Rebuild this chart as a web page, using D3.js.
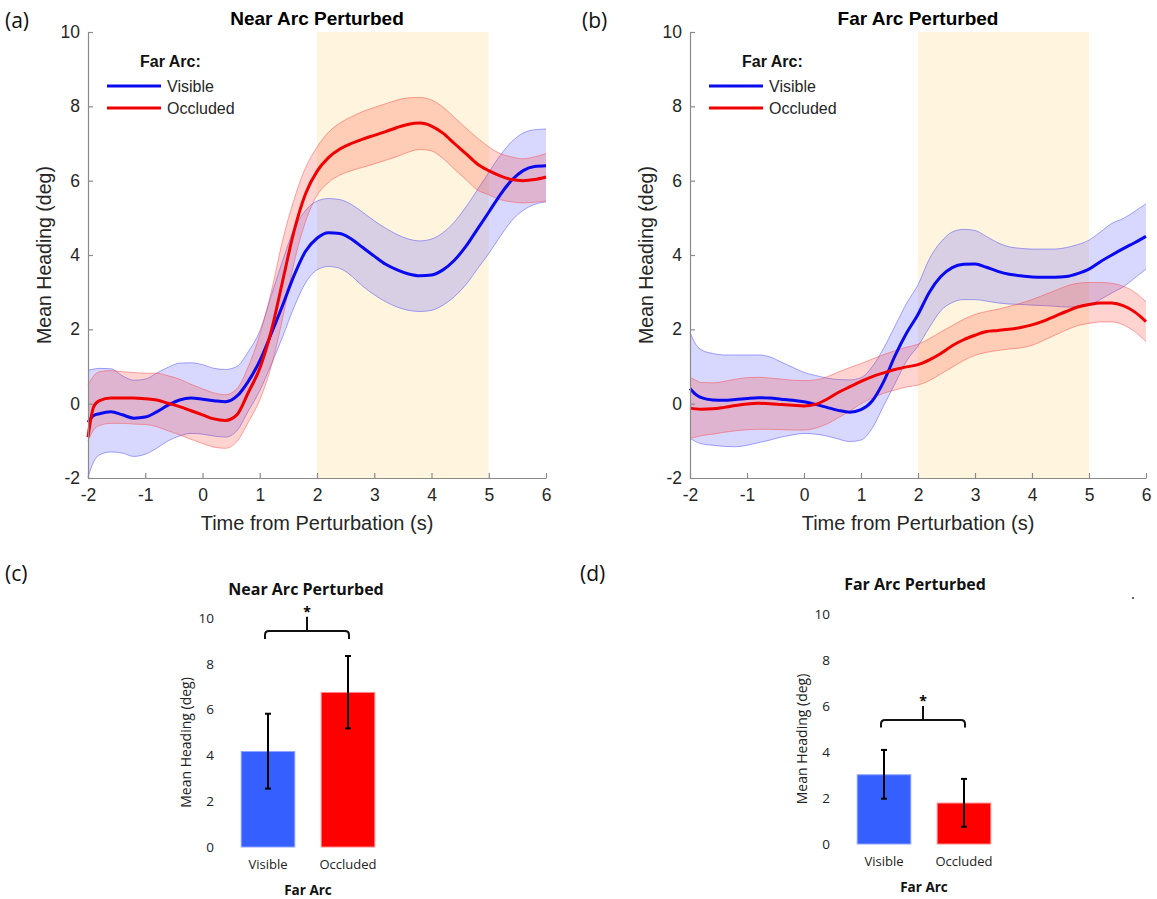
<!DOCTYPE html>
<html>
<head>
<meta charset="utf-8">
<script src="https://cdn.jsdelivr.net/npm/d3@7"></script>
<style>
  body { margin: 0; background: #fff; }
  svg { display: block; }
</style>
</head>
<body>
<svg id="fig" width="1157" height="899"></svg>
<script>
// ---- time-course data (seconds from perturbation, mean heading in deg) ----
const timePoints = [-2,-1.9,-1.8,-1.6,-1.4,-1.2,-1,-0.8,-0.6,-0.4,-0.2,0,0.2,0.4,0.6,0.8,1,1.2,1.4,1.6,1.8,2,2.2,2.4,2.6,2.8,3,3.2,3.4,3.6,3.8,4,4.2,4.4,4.6,4.8,5,5.2,5.4,5.6,5.8,6];

// Near arc perturbed
const nearVisibleMean  = [-0.5,-0.32,-0.27,-0.22,-0.3,-0.39,-0.36,-0.22,-0.04,0.10,0.15,0.12,0.08,0.05,0.2,0.6,1.15,1.88,2.65,3.45,4.1,4.45,4.6,4.58,4.43,4.2,3.97,3.75,3.6,3.49,3.44,3.46,3.6,3.86,4.23,4.69,5.15,5.62,6.01,6.27,6.38,6.4];
const nearVisibleUpper = [0.9,0.93,0.95,0.94,0.75,0.63,0.66,0.82,0.98,1.09,1.1,1.05,0.95,0.92,1.0,1.4,1.95,2.9,3.85,4.7,5.2,5.45,5.52,5.49,5.36,5.15,4.92,4.72,4.55,4.43,4.38,4.43,4.6,4.89,5.29,5.75,6.22,6.68,7.05,7.28,7.37,7.39];
const nearVisibleLower = [-1.98,-1.56,-1.38,-1.3,-1.33,-1.42,-1.36,-1.2,-1.0,-0.87,-0.8,-0.82,-0.87,-0.9,-0.73,-0.2,0.35,1.05,1.8,2.6,3.25,3.6,3.69,3.64,3.44,3.16,2.93,2.74,2.6,2.51,2.48,2.51,2.65,2.88,3.2,3.62,4.04,4.5,4.92,5.2,5.36,5.43];
const nearOccludedMean  = [-0.9,-0.08,0.08,0.15,0.15,0.15,0.13,0.1,0.01,-0.08,-0.19,-0.3,-0.41,-0.45,-0.3,0.3,0.95,1.95,3.3,4.65,5.65,6.25,6.62,6.85,7.0,7.12,7.22,7.32,7.43,7.52,7.55,7.47,7.28,7.0,6.73,6.45,6.27,6.13,6.03,6.0,6.03,6.1];
const nearOccludedUpper = [0.5,0.75,0.86,0.89,0.86,0.84,0.82,0.82,0.75,0.66,0.52,0.4,0.29,0.24,0.4,1.0,1.85,3.0,4.4,5.5,6.35,6.9,7.3,7.55,7.72,7.86,7.97,8.07,8.17,8.23,8.24,8.17,7.98,7.7,7.42,7.15,6.91,6.73,6.64,6.59,6.64,6.73];
const nearOccludedLower = [-1.0,-0.7,-0.59,-0.53,-0.53,-0.55,-0.56,-0.62,-0.73,-0.84,-0.96,-1.07,-1.17,-1.2,-1.02,-0.5,0.1,1.0,2.3,3.8,4.9,5.6,5.95,6.15,6.27,6.36,6.45,6.55,6.65,6.77,6.84,6.8,6.6,6.31,6.03,5.75,5.62,5.49,5.43,5.4,5.42,5.45];

// Far arc perturbed
const farVisibleMean  = [0.41,0.25,0.16,0.1,0.09,0.11,0.14,0.16,0.15,0.12,0.09,0.05,-0.02,-0.1,-0.18,-0.23,-0.16,0.08,0.6,1.3,1.9,2.4,3.0,3.42,3.66,3.75,3.76,3.67,3.56,3.48,3.44,3.41,3.4,3.4,3.42,3.5,3.62,3.82,4.0,4.17,4.33,4.5];
const farVisibleUpper = [1.92,1.6,1.45,1.35,1.31,1.31,1.31,1.31,1.26,1.12,0.98,0.84,0.76,0.69,0.65,0.64,0.7,1.0,1.5,2.1,2.7,3.2,3.9,4.35,4.62,4.69,4.66,4.5,4.33,4.22,4.18,4.16,4.16,4.16,4.2,4.28,4.4,4.62,4.85,4.98,5.17,5.38];
const farVisibleLower = [-0.93,-1.02,-1.08,-1.12,-1.15,-1.16,-1.12,-1.05,-0.98,-0.9,-0.84,-0.8,-0.82,-0.87,-0.95,-1.02,-0.98,-0.65,-0.05,0.55,1.15,1.55,2.05,2.5,2.72,2.8,2.8,2.76,2.71,2.68,2.67,2.65,2.64,2.62,2.6,2.6,2.64,2.8,2.98,3.14,3.38,3.62];
const farOccludedMean  = [-0.12,-0.14,-0.15,-0.14,-0.1,-0.05,-0.01,0.01,0.0,-0.02,-0.04,-0.06,-0.02,0.12,0.3,0.45,0.6,0.73,0.83,0.92,0.99,1.05,1.18,1.35,1.56,1.72,1.84,1.94,1.97,2.0,2.05,2.12,2.22,2.35,2.48,2.6,2.67,2.71,2.71,2.64,2.47,2.21];
const farOccludedUpper = [0.71,0.63,0.57,0.56,0.6,0.66,0.7,0.71,0.69,0.66,0.63,0.62,0.64,0.72,0.85,0.97,1.08,1.2,1.32,1.43,1.52,1.6,1.75,1.93,2.1,2.27,2.4,2.48,2.54,2.62,2.7,2.8,2.92,3.04,3.16,3.24,3.26,3.26,3.24,3.16,3.0,2.74];
const farOccludedLower = [-0.93,-0.9,-0.86,-0.82,-0.77,-0.73,-0.7,-0.69,-0.69,-0.7,-0.71,-0.71,-0.66,-0.55,-0.38,-0.2,0.0,0.15,0.28,0.37,0.45,0.5,0.62,0.8,0.98,1.16,1.3,1.38,1.43,1.47,1.5,1.57,1.7,1.84,1.98,2.1,2.16,2.2,2.2,2.12,1.94,1.67];

const lineXTicks = [-2,-1,0,1,2,3,4,5,6];
const lineYTicks = [-2,0,2,4,6,8,10];
const perturbWindow = [2, 5];
const seriesNames = ["Visible", "Occluded"];

// ---- summary bar data (mean heading, deg, with error-bar limits) ----
const barCategories = ["Visible", "Occluded"];
const nearBarMean = [4.17, 6.75];
const nearBarLow  = [2.55, 5.18];
const nearBarHigh = [5.82, 8.34];
const farBarMean  = [3.01, 1.78];
const farBarLow   = [1.97, 0.75];
const farBarHigh  = [4.09, 2.83];
const barYTicks = [0, 2, 4, 6, 8, 10];
// significance bracket: [foot, bar, peak, star] in deg
const nearBracket = [9.08, 9.43, 10.05, 10.4];
const farBracket  = [5.06, 5.39, 6.0, 6.35];

// ---- styles ----
const BLUE = "#0a0af0", RED = "#f00000";
const BLUE_FILL = "rgba(40,40,255,0.18)", RED_FILL = "rgba(255,40,20,0.20)";
const BLUE_EDGE = "rgba(60,60,255,0.45)", RED_EDGE = "rgba(255,60,60,0.45)";
const AX = "#8a8a8a", TXT = "#262626";
const ARIAL = "'Liberation Sans', Arial, sans-serif";
const SANS = "'Open Sans', 'Noto Sans', sans-serif";
const plain = d => String(d);   // hyphen-minus, as in the axis labels

const svg = d3.select("#fig");

function drawLinePanel(o) {
  const x = d3.scaleLinear().domain([-2, 6]).range([o.left, o.right]);
  const y = d3.scaleLinear().domain([-2, 10]).range([478, 32]);
  const g = svg.append("g");

  g.append("rect")
    .attr("x", x(perturbWindow[0])).attr("y", y(10))
    .attr("width", x(perturbWindow[1]) - x(perturbWindow[0]))
    .attr("height", y(-2) - y(10))
    .attr("fill", "#fff5de");

  const series = [
    {mean: o.visMean, up: o.visUp, lo: o.visLo, fill: BLUE_FILL, edge: BLUE_EDGE, col: BLUE},
    {mean: o.occMean, up: o.occUp, lo: o.occLo, fill: RED_FILL, edge: RED_EDGE, col: RED}
  ];
  const curve = d3.curveMonotoneX;
  const area = (up, lo) => d3.area().curve(curve)
      .x((d, i) => x(timePoints[i])).y0((d, i) => y(lo[i])).y1((d, i) => y(up[i]))(timePoints);
  const line = arr => d3.line().curve(curve).x((d, i) => x(timePoints[i])).y(d => y(d))(arr);

  series.forEach(s => {
    g.append("path").attr("d", area(s.up, s.lo)).attr("fill", s.fill);
    g.append("path").attr("d", line(s.up)).attr("fill", "none").attr("stroke", s.edge).attr("stroke-width", 1);
    g.append("path").attr("d", line(s.lo)).attr("fill", "none").attr("stroke", s.edge).attr("stroke-width", 1);
  });
  series.forEach(s => {
    g.append("path").attr("d", line(s.mean)).attr("fill", "none")
      .attr("stroke", s.col).attr("stroke-width", 3).attr("stroke-linejoin", "round");
  });

  // axes with inward ticks
  const xa = g.append("g").attr("transform", `translate(0,${y(-2)})`)
    .call(d3.axisBottom(x).tickValues(lineXTicks).tickFormat(plain)
      .tickSizeInner(-5).tickSizeOuter(0).tickPadding(11));
  const ya = g.append("g").attr("transform", `translate(${x(-2)},0)`)
    .call(d3.axisLeft(y).tickValues(lineYTicks).tickFormat(plain)
      .tickSizeInner(-5).tickSizeOuter(0).tickPadding(8));
  [xa, ya].forEach(a => {
    a.select(".domain").attr("stroke", AX).attr("stroke-width", 1.2);
    a.selectAll(".tick line").attr("stroke", AX).attr("stroke-width", 1.2);
    a.selectAll(".tick text").attr("fill", TXT).style("font-family", ARIAL).style("font-size", "17.5px");
  });

  g.append("text").attr("x", (o.left + o.right) / 2).attr("y", 25)
    .attr("text-anchor", "middle").attr("fill", "#000")
    .style("font-family", ARIAL).style("font-weight", "bold").style("font-size", "19px")
    .text(o.title);
  g.append("text").attr("x", (o.left + o.right) / 2).attr("y", 530)
    .attr("text-anchor", "middle").attr("fill", TXT)
    .style("font-family", ARIAL).style("font-size", "20px")
    .text("Time from Perturbation (s)");
  g.append("text").attr("transform", `translate(${o.left - 37},${y(4)}) rotate(-90)`)
    .attr("text-anchor", "middle").attr("fill", TXT)
    .style("font-family", ARIAL).style("font-size", "19.5px")
    .text("Mean Heading (deg)");

  // legend
  const lg = g.append("g").attr("transform", `translate(${o.left + 19},0)`);
  lg.append("text").attr("x", 33).attr("y", 67).attr("fill", "#111")
    .style("font-family", ARIAL).style("font-weight", "bold").style("font-size", "16px")
    .text("Far Arc:");
  series.forEach((s, i) => {
    const ly = 86 + i * 22;
    lg.append("line").attr("x1", 0).attr("x2", 54).attr("y1", ly).attr("y2", ly)
      .attr("stroke", s.col).attr("stroke-width", 3);
    lg.append("text").attr("x", 60).attr("y", ly + 6).attr("fill", TXT)
      .style("font-family", ARIAL).style("font-size", "16px")
      .text(seriesNames[i]);
  });
  return {x, y};
}

drawLinePanel({left: 88, right: 546, title: "Near Arc Perturbed",
  visMean: nearVisibleMean, visUp: nearVisibleUpper, visLo: nearVisibleLower,
  occMean: nearOccludedMean, occUp: nearOccludedUpper, occLo: nearOccludedLower});
drawLinePanel({left: 690, right: 1146, title: "Far Arc Perturbed",
  visMean: farVisibleMean, visUp: farVisibleUpper, visLo: farVisibleLower,
  occMean: farOccludedMean, occUp: farOccludedUpper, occLo: farOccludedLower});
// stray mark over the (b) axis title
svg.append("circle").attr("cx", 646).attr("cy", 208).attr("r", 1.2).attr("fill", "#333");

function drawBarPanel(o) {
  const x = d3.scaleBand().domain(barCategories).range([o.x0, o.x0 + 160])
    .paddingInner(0.33).paddingOuter(0.165);
  const y = d3.scaleLinear().domain([0, 10]).range([o.y0, o.y10]);
  const g = svg.append("g");
  const fills = ["#355ffe", "#ff0000"], edges = ["#8ea4ff", "#ff8a8a"];

  g.selectAll("rect.bar").data(o.mean).join("rect").attr("class", "bar")
    .attr("x", (d, i) => x(barCategories[i])).attr("width", x.bandwidth())
    .attr("y", d => y(d)).attr("height", d => y(0) - y(d))
    .attr("fill", (d, i) => fills[i]).attr("stroke", (d, i) => edges[i]).attr("stroke-width", 1);

  // error bars
  barCategories.forEach((c, i) => {
    const cx = x(c) + x.bandwidth() / 2;
    g.append("line").attr("x1", cx).attr("x2", cx).attr("y1", y(o.low[i])).attr("y2", y(o.high[i]))
      .attr("stroke", "#000").attr("stroke-width", 2);
    [o.low[i], o.high[i]].forEach(v => g.append("line")
      .attr("x1", cx - 3).attr("x2", cx + 3).attr("y1", y(v)).attr("y2", y(v))
      .attr("stroke", "#000").attr("stroke-width", 2));
  });

  // y tick labels only
  const ya = g.append("g").attr("transform", `translate(${o.axisX},0)`)
    .call(d3.axisLeft(y).tickValues(barYTicks).tickFormat(plain).tickSize(0).tickPadding(0));
  ya.select(".domain").remove();
  ya.selectAll(".tick text").attr("fill", "#222").style("font-family", SANS).style("font-size", "13.5px");

  // significance bracket
  const [foot, bar, peak, star] = o.bracket;
  const xa = x(barCategories[0]) + x.bandwidth() / 2 - 3;
  const xb = x(barCategories[1]) + x.bandwidth() / 2 + 1;
  const xm = (xa + xb) / 2, r = 4;
  g.append("path")
    .attr("d", `M${xa},${y(foot)} L${xa},${y(bar) + r} Q${xa},${y(bar)} ${xa + r},${y(bar)} L${xb - r},${y(bar)} Q${xb},${y(bar)} ${xb},${y(bar) + r} L${xb},${y(foot)} M${xm},${y(bar)} L${xm},${y(peak)}`)
    .attr("fill", "none").attr("stroke", "#111").attr("stroke-width", 2);
  g.append("text").attr("x", xm).attr("y", y(star) + 8).attr("text-anchor", "middle")
    .style("font-family", SANS).style("font-size", "14px").style("font-weight", "bold").text("*");

  // category labels, titles
  barCategories.forEach(c => g.append("text")
    .attr("x", x(c) + x.bandwidth() / 2).attr("y", o.y0 + 22).attr("text-anchor", "middle")
    .attr("fill", "#222").style("font-family", SANS).style("font-size", "13px").text(c));
  g.append("text").attr("x", (x(barCategories[0]) + x(barCategories[1]) + x.bandwidth()) / 2)
    .attr("y", o.y0 + 48).attr("text-anchor", "middle").attr("fill", "#111")
    .style("font-family", SANS).style("font-size", "13.5px").style("font-weight", "bold").text("Far Arc");
  g.append("text").attr("x", o.titleX).attr("y", o.titleY).attr("text-anchor", "middle")
    .attr("fill", "#111").style("font-family", SANS).style("font-size", "16px").style("font-weight", "bold")
    .text(o.title);
  g.append("text").attr("transform", `translate(${o.labelX},${y(5) + 10}) rotate(-90)`)
    .attr("text-anchor", "middle").attr("fill", "#222")
    .style("font-family", SANS).style("font-size", "14px").text("Mean Heading (deg)");
}

drawBarPanel({x0: 228, y0: 847, y10: 618, axisX: 214, labelX: 191, titleX: 306, titleY: 595,
  title: "Near Arc Perturbed", mean: nearBarMean, low: nearBarLow, high: nearBarHigh, bracket: nearBracket});
drawBarPanel({x0: 844, y0: 844, y10: 614, axisX: 830, labelX: 807, titleX: 915, titleY: 590,
  title: "Far Arc Perturbed", mean: farBarMean, low: farBarLow, high: farBarHigh, bracket: farBracket});
svg.append("circle").attr("cx", 1133).attr("cy", 598).attr("r", 1).attr("fill", "#333");

// panel letters
[["(a)", 5, 28], ["(b)", 582, 28], ["(c)", 5, 581], ["(d)", 580, 581]].forEach(([t, px, py]) =>
  svg.append("text").attr("x", px).attr("y", py).attr("fill", "#111")
    .style("font-family", SANS).style("font-size", "21px").text(t));
</script>
</body>
</html>
